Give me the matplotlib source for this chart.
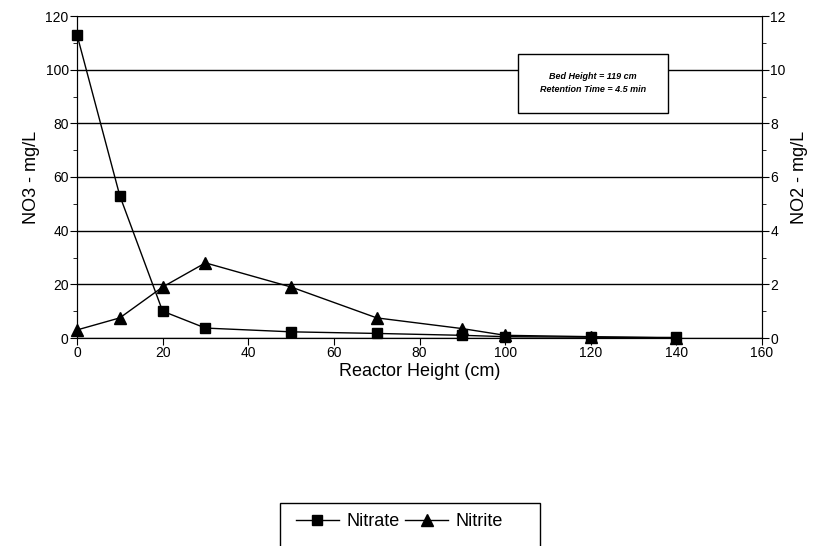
import matplotlib
matplotlib.use("Agg")
import matplotlib.pyplot as plt
from matplotlib.ticker import MultipleLocator
from matplotlib.patches import Rectangle

plt.rcParams['font.family'] = ['Liberation Sans', 'DejaVu Sans']

# reactor height (cm)
height = [0, 10, 20, 30, 50, 70, 90, 100, 120, 140]
# NO3 on the left axis, NO2 on the right axis (mg/L)
nitrate = [113, 53, 10, 3.7, 2.3, 1.7, 1.0, 0.5, 0.3, 0.2]
nitrite = [0.3, 0.75, 1.9, 2.8, 1.9, 0.75, 0.35, 0.1, 0.05, 0.0]

W, H = 824, 546
fig = plt.figure(figsize=(W/100, H/100), dpi=100)
ax = fig.add_axes([77/W, 1-338/H, (762-77)/W, (338-16)/H])
ax2 = ax.twinx()

l1, = ax.plot(height, nitrate, "-k", marker="s", ms=7, lw=1, label="Nitrate", clip_on=False)
l2, = ax2.plot(height, nitrite, "-k", marker="^", ms=9, lw=1, label="Nitrite", clip_on=False)

ax.set_xlim(0, 160)
ax.set_ylim(0, 120)
ax2.set_ylim(0, 12)
ax.xaxis.set_major_locator(MultipleLocator(20))
ax.yaxis.set_major_locator(MultipleLocator(20))
ax.yaxis.set_minor_locator(MultipleLocator(10))
ax2.yaxis.set_major_locator(MultipleLocator(2))
ax2.yaxis.set_minor_locator(MultipleLocator(1))

ax.grid(axis="y", color="black", lw=1)
for a in (ax, ax2):
    a.spines["top"].set_visible(False)
    a.tick_params(which="both", direction="out", color="black", labelsize=10, pad=1)
    a.tick_params(which="major", length=5)
    a.tick_params(which="minor", length=3)

ax.set_xlabel("Reactor Height (cm)", fontsize=13, labelpad=2)
ax.set_ylabel("NO3 - mg/L", fontsize=13, labelpad=4)
ax2.set_ylabel("NO2 - mg/L", fontsize=13, labelpad=4)

# note box
ax.add_patch(Rectangle(((518-77)/685, 1-(113-16)/322), 150/685, 59/322,
                       transform=ax.transAxes, fc="white", ec="black", lw=1, zorder=4))
ax.text((593-77)/685, 1-(83-16)/322, "Bed Height = 119 cm\nRetention Time = 4.5 min",
        transform=ax.transAxes, ha="center", va="center",
        fontsize=6.5, style="italic", fontweight="bold", linespacing=1.5, zorder=5)

# legend with a frame running off the bottom edge
fig.patches.append(Rectangle((280/W, -0.05), 260/W, 0.05 + 1-503/H,
                             transform=fig.transFigure, fc="white", ec="black", lw=1))
fig.legend([l1, l2], ["Nitrate", "Nitrite"], loc="center left",
           bbox_to_anchor=(283/W, 1-522/H), ncol=2, fontsize=13,
           frameon=False, handlelength=2.4, handletextpad=0.4, columnspacing=0.3,
           borderpad=0.2)

fig.savefig("out.png", dpi=100)
